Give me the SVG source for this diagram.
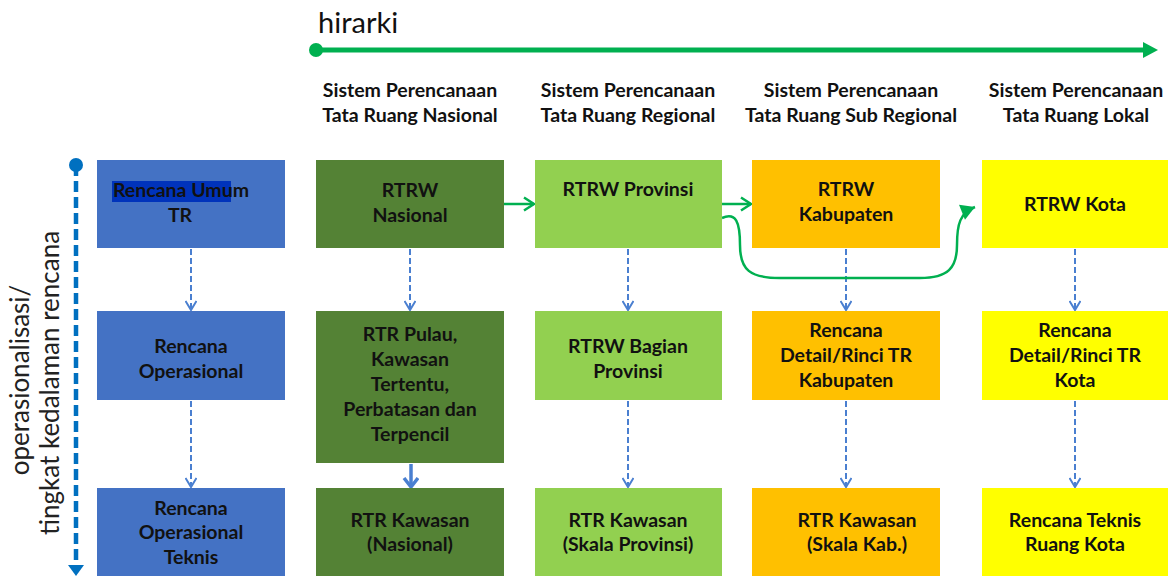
<svg xmlns="http://www.w3.org/2000/svg" width="1168" height="576" viewBox="0 0 1168 576">
<style>
.t{font-family:Lato,"Open Sans","Liberation Sans",sans-serif;font-weight:bold;font-size:19.5px;fill:#111;text-anchor:middle}
.h{font-family:Lato,"Open Sans","Liberation Sans",sans-serif;font-weight:bold;font-size:19.5px;fill:#111;text-anchor:middle}
.ax{font-family:Lato,"Open Sans","Liberation Sans",sans-serif;font-size:26px;fill:#222;text-anchor:middle}
.dash{stroke:#4a7fd0;stroke-width:2;stroke-dasharray:6 3;fill:none}
.gc{stroke:#00b050;stroke-width:2.5;fill:none}
</style>
<defs>
<marker id="bh" markerUnits="userSpaceOnUse" markerWidth="16" markerHeight="12" refX="12" refY="6" orient="auto">
<path d="M3,0.5 L12,6 L3,11.5" fill="none" stroke="#4a7fd0" stroke-width="2"/>
</marker>
<marker id="bhs" markerUnits="userSpaceOnUse" markerWidth="18" markerHeight="18" refX="12" refY="8" orient="auto">
<path d="M3,1 L12,8 L3,15" fill="none" stroke="#4a7fd0" stroke-width="3.5"/>
</marker>
<marker id="gh" markerUnits="userSpaceOnUse" markerWidth="18" markerHeight="16" refX="14" refY="8" orient="auto">
<path d="M4,1.5 L14,8 L4,14.5" fill="none" stroke="#00b050" stroke-width="2.5"/>
</marker>
<marker id="gcurve" markerUnits="userSpaceOnUse" markerWidth="20" markerHeight="20" refX="16" refY="10" orient="auto">
<path d="M2,2 L16,10 L2,18 Z" fill="#00b050"/>
</marker>
</defs>

<g id="axis-top">
<text x="318" y="33" font-family="Lato,'Open Sans','Liberation Sans',sans-serif" font-size="29" fill="#111">hirarki</text>
<line x1="316" y1="50" x2="1146" y2="50" stroke="#00b050" stroke-width="5"/>
<circle cx="316" cy="50" r="7" fill="#00b050"/>
<path d="M1143,42 L1158,50 L1143,58 Z" fill="#00b050"/>
</g>

<g id="axis-left">
<circle cx="76" cy="165" r="7" fill="#0070c0"/>
<line x1="76" y1="165" x2="76" y2="566" stroke="#0070c0" stroke-width="4.5" stroke-dasharray="11 5"/>
<path d="M68,565 L76,576 L84,565 Z" fill="#0070c0"/>
<text class="ax" transform="translate(29,380) rotate(-90)">operasionalisasi/</text>
<text class="ax" transform="translate(59,383) rotate(-90)">tingkat kedalaman rencana</text>
</g>

<g id="headers">
<text class="h" x="410" y="97">Sistem Perencanaan</text>
<text class="h" x="410" y="122">Tata Ruang Nasional</text>
<text class="h" x="628" y="97">Sistem Perencanaan</text>
<text class="h" x="628" y="122">Tata Ruang Regional</text>
<text class="h" x="851" y="97">Sistem Perencanaan</text>
<text class="h" x="851" y="122">Tata Ruang Sub Regional</text>
<text class="h" x="1076" y="97">Sistem Perencanaan</text>
<text class="h" x="1076" y="122">Tata Ruang Lokal</text>
</g>

<g id="connectors">
<line class="dash" x1="191" y1="249" x2="191" y2="310" marker-end="url(#bh)"/>
<line class="dash" x1="191" y1="401" x2="191" y2="487" marker-end="url(#bh)"/>
<line class="dash" x1="410" y1="249" x2="410" y2="310" marker-end="url(#bh)"/>
<line x1="411" y1="464" x2="411" y2="487" stroke="#4a7fd0" stroke-width="3.5" marker-end="url(#bhs)"/>
<line class="dash" x1="628" y1="249" x2="628" y2="310" marker-end="url(#bh)"/>
<line class="dash" x1="628" y1="401" x2="628" y2="487" marker-end="url(#bh)"/>
<line class="dash" x1="846" y1="249" x2="846" y2="310" marker-end="url(#bh)"/>
<line class="dash" x1="846" y1="401" x2="846" y2="487" marker-end="url(#bh)"/>
<line class="dash" x1="1075" y1="249" x2="1075" y2="310" marker-end="url(#bh)"/>
<line class="dash" x1="1075" y1="401" x2="1075" y2="487" marker-end="url(#bh)"/>
<line class="gc" x1="504" y1="204" x2="534" y2="204" marker-end="url(#gh)"/>
<line class="gc" x1="722" y1="204" x2="751" y2="204" marker-end="url(#gh)"/>
<path class="gc" d="M722,218 C736,212 740,222 740,245 C740,270 750,278 780,278 L920,278 C948,278 957,268 957,245 C957,224 960,213 975,207" marker-end="url(#gcurve)"/>
</g>

<g id="n-umum">
<rect x="97" y="160" width="188" height="88" fill="#4472c4"/>
<rect x="112" y="181" width="119" height="21" fill="#0033bb"/>
<text class="t" x="181" y="197">Rencana Umum</text>
<text class="t" x="180" y="222">TR</text>
</g>
<g id="n-operasional">
<rect x="97" y="311" width="188" height="89" fill="#4472c4"/>
<text class="t" x="191" y="353">Rencana</text>
<text class="t" x="191" y="378">Operasional</text>
</g>
<g id="n-operasional-teknis">
<rect x="97" y="488" width="188" height="88" fill="#4472c4"/>
<text class="t" x="191" y="515">Rencana</text>
<text class="t" x="191" y="539">Operasional</text>
<text class="t" x="191" y="564">Teknis</text>
</g>

<g id="n-rtrw-nasional">
<rect x="316" y="160" width="188" height="88" fill="#548235"/>
<text class="t" x="410" y="197">RTRW</text>
<text class="t" x="410" y="222">Nasional</text>
</g>
<g id="n-rtr-pulau">
<rect x="316" y="311" width="188" height="152" fill="#548235"/>
<text class="t" x="410" y="341">RTR Pulau,</text>
<text class="t" x="410" y="366">Kawasan</text>
<text class="t" x="410" y="391">Tertentu,</text>
<text class="t" x="410" y="416">Perbatasan dan</text>
<text class="t" x="410" y="441">Terpencil</text>
</g>
<g id="n-rtr-kawasan-nasional">
<rect x="316" y="488" width="188" height="88" fill="#548235"/>
<text class="t" x="410" y="527">RTR Kawasan</text>
<text class="t" x="410" y="551">(Nasional)</text>
</g>

<g id="n-rtrw-provinsi">
<rect x="535" y="160" width="187" height="88" fill="#92d050"/>
<text class="t" x="628" y="196">RTRW Provinsi</text>
</g>
<g id="n-rtrw-bagian">
<rect x="535" y="311" width="187" height="89" fill="#92d050"/>
<text class="t" x="628" y="353">RTRW Bagian</text>
<text class="t" x="628" y="378">Provinsi</text>
</g>
<g id="n-rtr-kawasan-provinsi">
<rect x="535" y="488" width="187" height="88" fill="#92d050"/>
<text class="t" x="628" y="527">RTR Kawasan</text>
<text class="t" x="628" y="551">(Skala Provinsi)</text>
</g>

<g id="n-rtrw-kabupaten">
<rect x="752" y="160" width="188" height="88" fill="#ffc000"/>
<text class="t" x="846" y="196">RTRW</text>
<text class="t" x="846" y="221">Kabupaten</text>
</g>
<g id="n-rdtr-kabupaten">
<rect x="752" y="311" width="188" height="89" fill="#ffc000"/>
<text class="t" x="846" y="337">Rencana</text>
<text class="t" x="846" y="362">Detail/Rinci TR</text>
<text class="t" x="846" y="387">Kabupaten</text>
</g>
<g id="n-rtr-kawasan-kab">
<rect x="752" y="488" width="188" height="88" fill="#ffc000"/>
<text class="t" x="857" y="527">RTR Kawasan</text>
<text class="t" x="857" y="551">(Skala Kab.)</text>
</g>

<g id="n-rtrw-kota">
<rect x="982" y="160" width="186" height="88" fill="#ffff00"/>
<text class="t" x="1075" y="211">RTRW Kota</text>
</g>
<g id="n-rdtr-kota">
<rect x="982" y="311" width="186" height="89" fill="#ffff00"/>
<text class="t" x="1075" y="337">Rencana</text>
<text class="t" x="1075" y="362">Detail/Rinci TR</text>
<text class="t" x="1075" y="387">Kota</text>
</g>
<g id="n-rtr-teknis-kota">
<rect x="982" y="488" width="186" height="88" fill="#ffff00"/>
<text class="t" x="1075" y="527">Rencana Teknis</text>
<text class="t" x="1075" y="551">Ruang Kota</text>
</g>
</svg>
